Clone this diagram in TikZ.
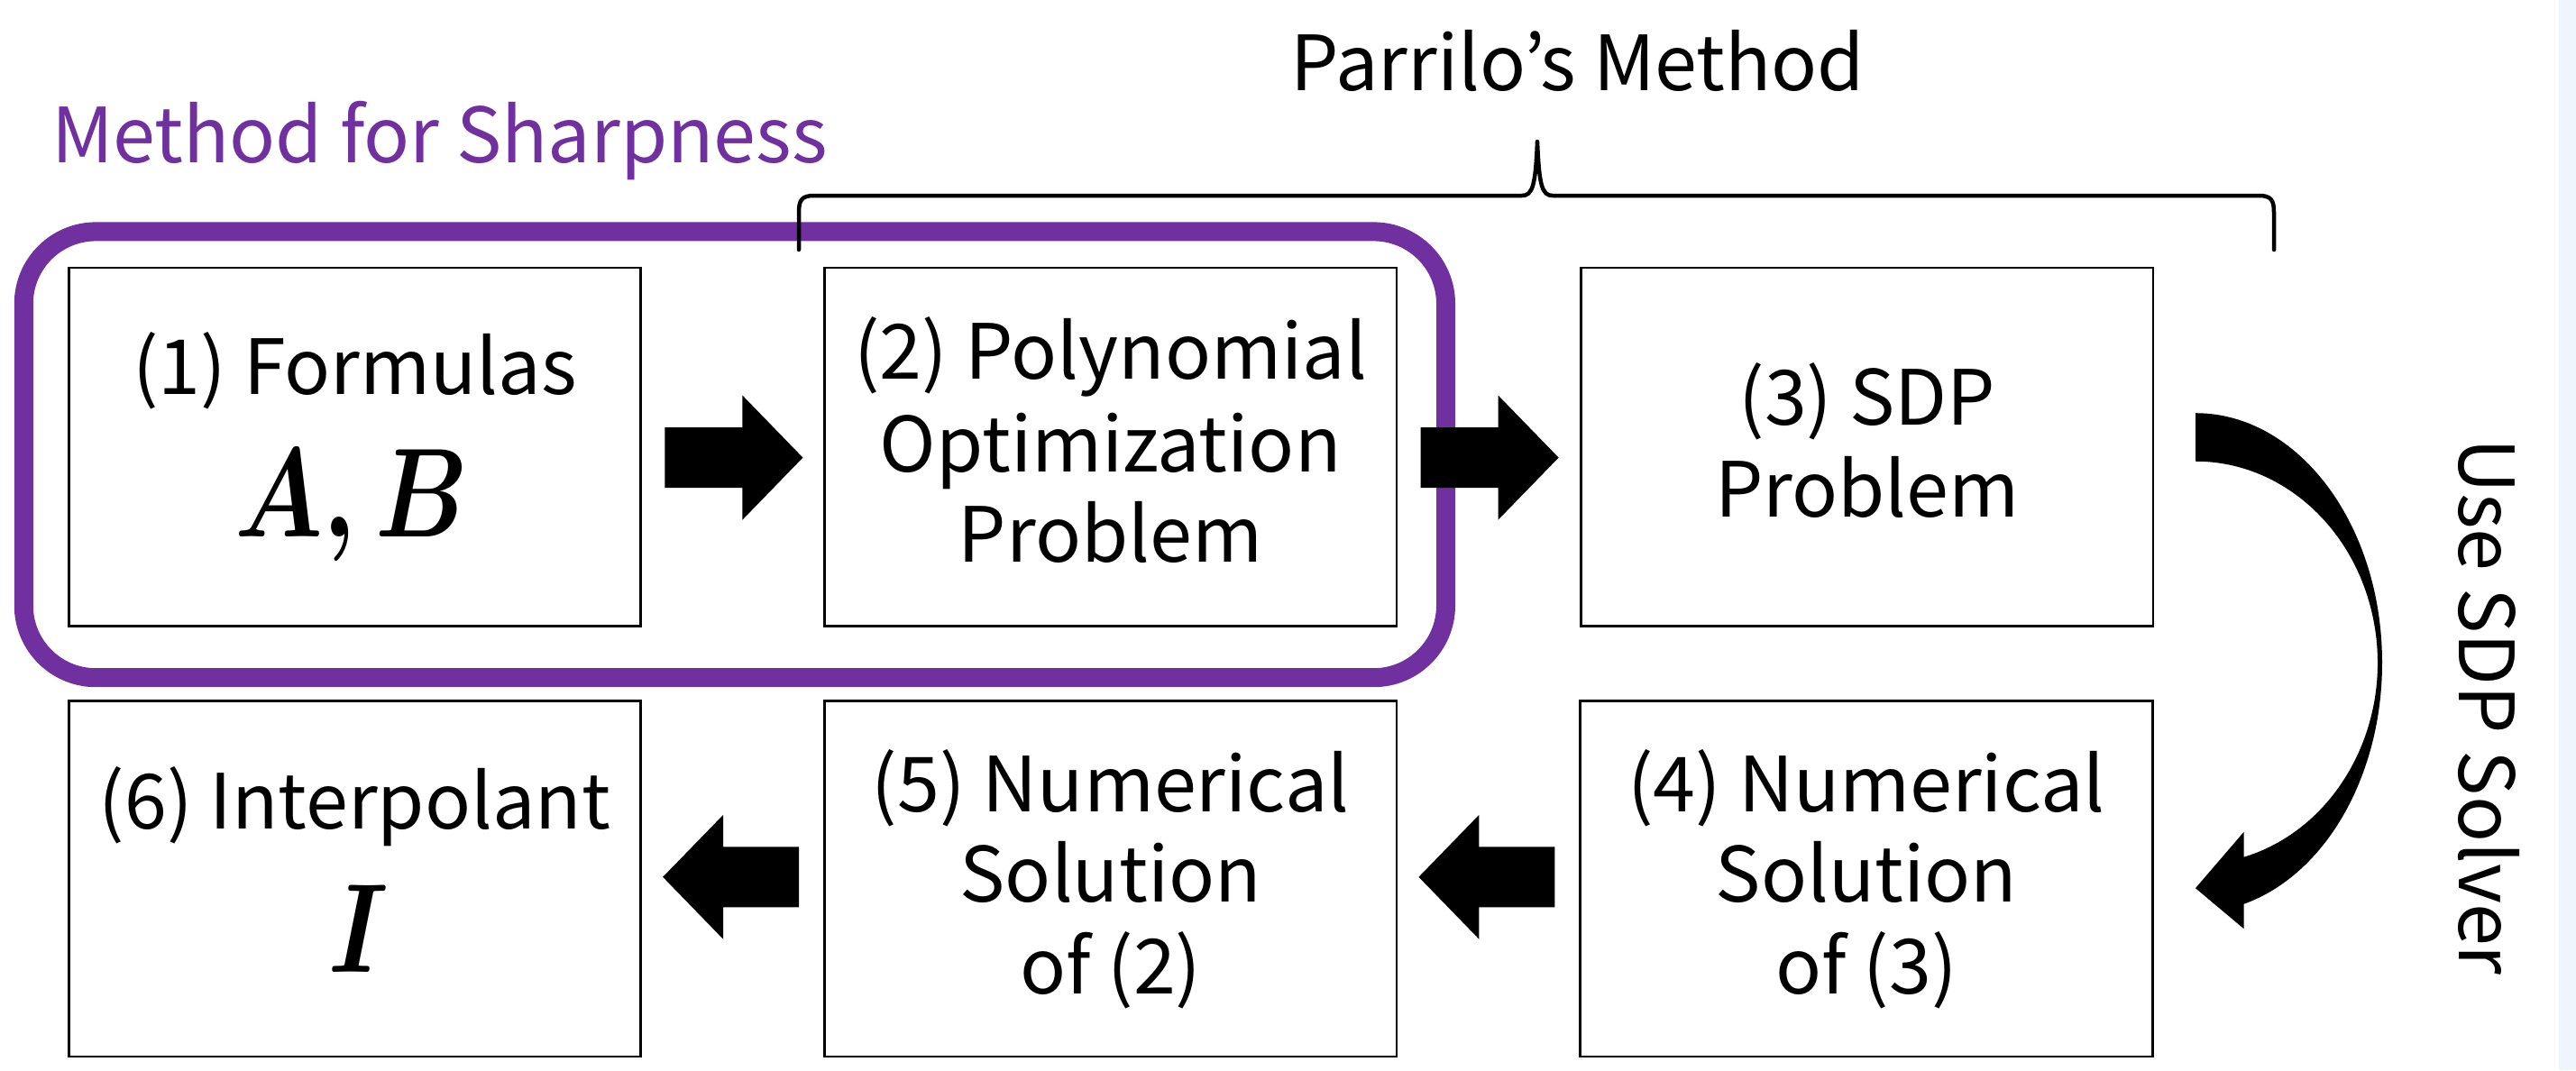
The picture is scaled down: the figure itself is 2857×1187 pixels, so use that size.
\RequirePackage{fix-cm}
\documentclass[tikz,border=0pt]{standalone}
\usepackage{fontspec}
\setmainfont{Noto Sans CJK JP}
\usetikzlibrary{calc}
\definecolor{mpurple}{RGB}{112,48,160}
\definecolor{stripblue}{RGB}{238,245,253}
\newcommand\ArrR[1]{\fill[black] #1 ++(0,-33.5) -- ++(86,0) -- ++(0,-35.5) -- ++(67,69) -- ++(-67,69) -- ++(0,-35.5) -- ++(-86,0) -- cycle;}
\newcommand\ArrL[1]{\fill[black] #1 ++(0,-33.5) -- ++(-84,0) -- ++(0,-35.5) -- ++(-67,69) -- ++(67,69) -- ++(0,-35.5) -- ++(84,0) -- cycle;}
\begin{document}
\begin{tikzpicture}[x=0.01cm, y=-0.01cm,
  box/.style={draw=black, line width=0.027cm, minimum width=6.34cm, inner sep=0pt},
  lbl/.style={anchor=base, inner sep=0pt, font=\fontsize{24}{29}\selectfont},
  mlbl/.style={anchor=base, inner sep=0pt, xscale=0.8, font=\fontsize{40}{48}\selectfont\boldmath},
  sharpbox/.style={draw=mpurple, line width=0.21cm, rounded corners=0.8cm, inner sep=0pt},
  bracepath/.style={line width=0.045cm, line cap=round, line join=round}
]
\useasboundingbox (0,0) rectangle (2857,1187);
\fill[stripblue] (2838,0) rectangle (2857,1187);

% purple frame
\node[sharpbox, minimum width=15.763cm, minimum height=4.945cm] (sharp) at (814.9,504.3) {};

% boxes
\node[box, minimum height=3.97cm] (b1) at (393.5,495.6) {};
\node[box, minimum height=3.97cm] (b2) at (1231.7,495.6) {};
\node[box, minimum height=3.97cm] (b3) at (2070.9,495.6) {};
\node[box, minimum height=3.94cm] (b4) at (2070,974.8) {};
\node[box, minimum height=3.94cm] (b5) at (1231.7,974.8) {};
\node[box, minimum height=3.94cm] (b6) at (393.5,974.8) {};

% texts
\node[lbl] (t1a) at (393.5,437.5) {(1) Formulas};
\node[mlbl] (t1b) at (390,595) {$A,B$};
\node[lbl] (t2a) at (1231.7,420.7) {(2) Polynomial};
\node[lbl] (t2b) at (1231.7,523.3) {Optimization};
\node[lbl] (t2c) at (1231.7,623.3) {Problem};
\node[lbl] (t3a) at (2070.9,471.7) {(3) SDP};
\node[lbl] (t3b) at (2070.9,573.3) {Problem};
\node[lbl] (t4a) at (2070,900) {(4) Numerical};
\node[lbl] (t4b) at (2070,1000.7) {Solution};
\node[lbl] (t4c) at (2070,1102.3) {of (3)};
\node[lbl] (t5a) at (1231.7,900) {(5) Numerical};
\node[lbl] (t5b) at (1231.7,1000.7) {Solution};
\node[lbl] (t5c) at (1231.7,1102.3) {of (2)};
\node[lbl] (t6a) at (393.5,919) {(6) Interpolant};
\node[mlbl] (t6b) at (398,1078) {$I$};

\node[lbl] (parrilo) at (1750,100) {Parrilo’s Method};
\node[lbl, text=mpurple] (sharplbl) at (487.5,180) {Method for Sharpness};
\node[lbl, rotate=-90] (solver) at (2727,784) {Use SDP Solver};

% brace
\draw[bracepath] (886,277) -- (886,236) .. controls (886,222) and (889,217) .. (903,217) -- (1688,217) .. controls (1700,217) and (1703,205) .. (1705,157) .. controls (1707,205) and (1710,217) .. (1722,217) -- (2505,217) .. controls (2519,217) and (2522,222) .. (2522,236) -- (2522,277);

% block arrows
\ArrR{($(b1.east)+(25.4,12)$)}
\ArrR{($(b2.east)+(25.4,12)$)}
\ArrL{($(b4.west)+(-27,-2)$)}
\ArrL{($(b5.west)+(-27,-2)$)}

% curved arrow
\coordinate (cc) at ($(b3.east)!0.5!(b4.east)+(46,0)$);
\begin{scope}[shift={(cc)}]
\fill[black] (0,-277) arc[start angle=-90, end angle=75, x radius=207, y radius=277]
  -- (53.6,295) -- (0,250) -- (53.6,187.6) -- (53.6,215.5)
  arc[start angle=74.61, end angle=-90, x radius=202, y radius=223.5] -- cycle;
\end{scope}
\end{tikzpicture}
\end{document}
